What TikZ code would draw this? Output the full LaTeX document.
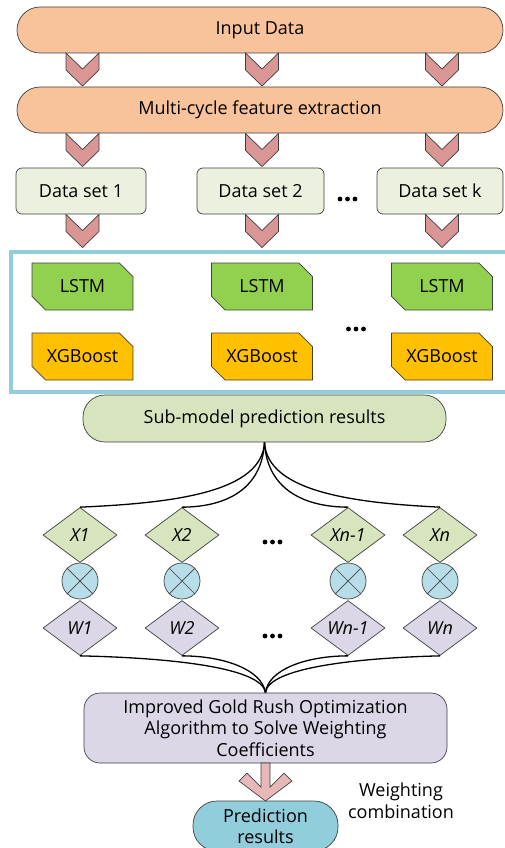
\documentclass[tikz,border=0pt]{standalone}
\usepackage{fontspec}
\setmainfont{Open Sans}
\usetikzlibrary{shapes.geometric,shapes.misc}
\definecolor{peach}{RGB}{248,195,155}
\definecolor{chevc}{RGB}{217,150,148}
\definecolor{dsfill}{RGB}{235,241,222}
\definecolor{framec}{RGB}{146,205,220}
\definecolor{lstmc}{RGB}{146,208,80}
\definecolor{xgbc}{RGB}{255,192,0}
\definecolor{subc}{RGB}{215,228,189}
\definecolor{circc}{RGB}{183,222,232}
\definecolor{lavc}{RGB}{220,215,231}
\definecolor{arrc}{RGB}{230,185,184}
\definecolor{predc}{RGB}{146,205,220}
\tikzset{
  edge/.style={draw=black!75, line width=0.7pt},
  bigbox/.style={edge, fill=peach, rounded corners=23pt, minimum width=486pt, minimum height=46pt, inner sep=0pt},
  dsbox/.style={edge, fill=dsfill, rounded corners=6pt, minimum height=46pt, inner sep=0pt},
  snip/.style={edge, chamfered rectangle, chamfered rectangle corners={north east,south west}, chamfered rectangle xsep=7pt, chamfered rectangle ysep=7pt, minimum width=101pt, minimum height=47pt, inner sep=0pt},
  dia/.style={edge, diamond, minimum width=74pt, minimum height=55pt, inner sep=0pt, font=\fontsize{18}{21}\selectfont\itshape},
  mult/.style={edge, circle, fill=circc, minimum size=36pt, inner sep=0pt},
  conn/.style={draw=black, line width=1.3pt},
  chev/.pic={\draw[edge, fill=chevc] (-16.5,0) -- (0,16) -- (16.5,0) -- (16.5,17) -- (0,33) -- (-16.5,17) -- cycle;},
  dots/.pic={\foreach \dx in {-7.5,0,7.5} \fill[black] (\dx,0) circle (2.4pt);}
}
\begin{document}
\begin{tikzpicture}[x=1pt,y=-1pt,font=\fontsize{18}{21.7}\selectfont]
\useasboundingbox (0,0) rectangle (504,848);
% frame
\draw[framec, line width=3.5pt] (11,252) rectangle (508,392);
% top boxes
\node[bigbox] (input) at (260,30) {Input Data};
\node[bigbox] (multi) at (260,110) {Multi-cycle feature extraction};
% data sets
\node[dsbox, minimum width=130pt] (ds1) at (81,191) {Data set 1};
\node[dsbox, minimum width=127pt] (ds2) at (260.5,191) {Data set 2};
\node[dsbox, minimum width=126pt] (dsk) at (440,191) {Data set k};
% chevrons
\foreach \cx in {82.5,262,442} {
  \pic at (\cx,53) {chev};
  \pic at (\cx,133.5) {chev};
  \pic at (\cx,214.5) {chev};
}
\pic at (347.5,199) {dots};
% models
\node[snip, fill=lstmc] (l1) at (82.5,286.5) {LSTM};
\node[snip, fill=lstmc] (l2) at (262,286.5) {LSTM};
\node[snip, fill=lstmc] (l3) at (442,286.5) {LSTM};
\node[snip, fill=xgbc] (g1) at (82.5,356.5) {XGBoost};
\node[snip, fill=xgbc] (g2) at (262,356.5) {XGBoost};
\node[snip, fill=xgbc] (g3) at (442,356.5) {XGBoost};
\pic at (356,329) {dots};
% sub-model
\node[edge, fill=subc, rounded corners=22pt, minimum width=363pt, minimum height=47pt, inner sep=0pt] (sub) at (264.5,418.5) {Sub-model prediction results};
% X diamonds
\node[dia, fill=subc] (x1) at (80,535) {X1};
\node[dia, fill=subc] (x2) at (182,535) {X2};
\node[dia, fill=subc] (xn1) at (348,535) {Xn-1};
\node[dia, fill=subc] (xn) at (440,535) {Xn};
\pic at (272.5,542) {dots};
% multipliers
\foreach \n/\cx in {c1/80,c2/182,c3/348,c4/440} {
  \node[mult] (\n) at (\cx,581) {};
  \draw[edge] (\n.north east) -- (\n.south west) (\n.north west) -- (\n.south east);
}
% W diamonds
\node[dia, fill=lavc] (w1) at (80,628) {W1};
\node[dia, fill=lavc] (w2) at (182,628) {W2};
\node[dia, fill=lavc] (wn1) at (348,628) {Wn-1};
\node[dia, fill=lavc] (wn) at (440,628) {Wn};
\pic at (272.5,636) {dots};
% improved box
\node[edge, fill=lavc, rounded corners=16pt, minimum width=363pt, minimum height=70pt, inner sep=0pt, align=center] (imp) at (265.5,728) {Improved Gold Rush Optimization\\Algorithm to Solve Weighting\\Coefficients};
% connectors top
\draw[conn] (x1.north) .. controls (175,503) and (262,492) .. (sub.south);
\draw[conn] (x2.north) .. controls (225,507) and (262,490) .. (sub.south);
\draw[conn] (xn1.north) .. controls (305,507) and (267,490) .. (sub.south);
\draw[conn] (xn.north) .. controls (355,503) and (267,492) .. (sub.south);
% connectors bottom
\draw[conn] (w1.south) .. controls (175,658) and (262,668) .. (imp.north);
\draw[conn] (w2.south) .. controls (225,656) and (262,670) .. (imp.north);
\draw[conn] (wn1.south) .. controls (305,656) and (268,670) .. (imp.north);
\draw[conn] (wn.south) .. controls (355,658) and (268,668) .. (imp.north);
% prediction
\node[edge, fill=predc, rounded corners=24pt, minimum width=145pt, minimum height=50pt, inner sep=0pt, align=center, font=\fontsize{18}{21.5}\selectfont] (pred) at (265.5,826) {Prediction\\results};
% arrow
\draw[edge, fill=arrc] (261,763) -- (261,787) -- (247,773) -- (239,781) -- (265.5,801) -- (292,781) -- (284,773) -- (270,787) -- (270,763) -- cycle;
\node[align=center] (wc) at (401,801) {Weighting\\combination};
\end{tikzpicture}
\end{document}
